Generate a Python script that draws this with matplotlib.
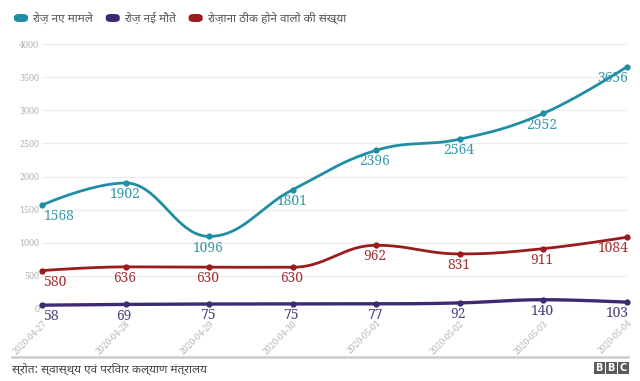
import numpy as np
import matplotlib
matplotlib.use('Agg')
import matplotlib.pyplot as plt
from matplotlib.patches import FancyBboxPatch, Rectangle

# Data (MoHFW daily figures)
DATES = ['2020-04-27', '2020-04-28', '2020-04-29', '2020-04-30',
         '2020-05-01', '2020-05-02', '2020-05-03', '2020-05-04']
NEW_CASES = [1568, 1902, 1096, 1801, 2396, 2564, 2952, 3656]
DEATHS = [58, 69, 75, 75, 77, 92, 140, 103]
RECOVERED = [580, 636, 630, 630, 962, 831, 911, 1084]
SERIES_NAMES = ['रोज़ नए मामले', 'रोज़ नई मौतें', 'रोज़ाना ठीक होने वालों की संख्या']
SOURCE = 'स्रोत: स्वास्थ्य एवं परिवार कल्याण मंत्रालय'

TEAL, PURPLE, RED = '#1f8ea5', '#3d2a72', '#9a1a1e'
HINDI = ['Noto Sans Devanagari', 'DejaVu Sans']
SERIF = ['Noto Serif', 'DejaVu Serif']


def spline(xs, ys, n=40):
    """Highcharts-style spline through the points (smoothing 1.5)."""
    xs, ys = np.asarray(xs, float), np.asarray(ys, float)
    m = len(xs)
    lc = [(x, y) for x, y in zip(xs, ys)]
    rc = [(x, y) for x, y in zip(xs, ys)]
    sm, den = 1.5, 2.5
    for i in range(1, m - 1):
        x, y = xs[i], ys[i]
        lx, ly = (sm * x + xs[i-1]) / den, (sm * y + ys[i-1]) / den
        rx, ry = (sm * x + xs[i+1]) / den, (sm * y + ys[i+1]) / den
        corr = (ry - ly) * (rx - x) / (rx - lx) + y - ry
        ly += corr
        ry += corr
        if ly > ys[i-1] and ly > y:
            ly = max(ys[i-1], y); ry = 2 * y - ly
        elif ly < ys[i-1] and ly < y:
            ly = min(ys[i-1], y); ry = 2 * y - ly
        if ry > ys[i+1] and ry > y:
            ry = max(ys[i+1], y); ly = 2 * y - ry
        elif ry < ys[i+1] and ry < y:
            ry = min(ys[i+1], y); ly = 2 * y - ry
        lc[i] = (lx, ly)
        rc[i] = (rx, ry)
    t = np.linspace(0, 1, n)[:, None]
    out = []
    for i in range(m - 1):
        p0 = np.array([xs[i], ys[i]]); p1 = np.array(rc[i])
        p2 = np.array(lc[i+1]); p3 = np.array([xs[i+1], ys[i+1]])
        seg = ((1-t)**3) * p0 + 3*((1-t)**2)*t*p1 + 3*(1-t)*t**2*p2 + t**3*p3
        out.append(seg if i == 0 else seg[1:])
    out = np.vstack(out)
    return out[:, 0], out[:, 1]


fig = plt.figure(figsize=(6.4, 3.81), dpi=100)
ax = fig.add_axes([42/640, 72/381, 585/640, 265/381])
x = np.arange(len(DATES))

for vals, col, lw in [(RECOVERED, RED, 2.0), (NEW_CASES, TEAL, 2.0), (DEATHS, PURPLE, 2.4)]:
    sx, sy = spline(x, vals)
    ax.plot(sx, sy, color=col, lw=lw, clip_on=False, zorder=3, solid_capstyle='round')
    ax.plot(x, vals, 'o', color=col, ms=3.5, clip_on=False, zorder=4)
    for xi, v in zip(x, vals):
        if xi == 0:
            ha, dx = 'left', 1
        elif xi == len(DATES) - 1:
            ha, dx = 'right', 1
        else:
            ha, dx = 'center', -1
        ax.annotate(f'{v}', (xi, v), xytext=(dx, -3), textcoords='offset points',
                    ha=ha, va='top', fontsize=10, color=col,
                    family=SERIF, alpha=0.9, zorder=5)

ax.set_xlim(0, len(DATES) - 1)
ax.set_ylim(0, 4000)
ax.set_yticks(np.arange(0, 4001, 500))
ax.yaxis.grid(True, color='#ececec', lw=0.8)
ax.set_axisbelow(True)
for s in ax.spines.values():
    s.set_visible(False)
ax.tick_params(axis='y', length=0, pad=2, labelsize=6.5, labelcolor='#b0b0b0')
for lab in ax.get_yticklabels():
    lab.set_family(SERIF)
ax.set_xticks(x)
ax.set_xticklabels(DATES, rotation=45, ha='right', va='top', rotation_mode='anchor',
                   fontsize=6.2, color='#b0b0b0', family=SERIF)
ax.tick_params(axis='x', length=0, pad=7)

# Legend
lx = 14
for name, col in zip(SERIES_NAMES, [TEAL, PURPLE, RED]):
    fig.patches.append(FancyBboxPatch((lx/640, 1 - 22/381), 14/640, 8/381,
                                      boxstyle='round,pad=0,rounding_size=0.008',
                                      transform=fig.transFigure, color=col, lw=0))
    t = fig.text((lx + 18)/640, 1 - 18/381, name, fontsize=8.5, color='#555555',
                 family=HINDI, va='center', ha='left')
    fig.canvas.draw()
    bb = t.get_window_extent()
    lx = bb.x1 + 13

# Footer
fig.add_artist(plt.Line2D([12/640, 628/640], [1 - 357/381] * 2, color='#cccccc', lw=1.8,
                          transform=fig.transFigure))
fig.text(12/640, 1 - 369/381, SOURCE, fontsize=8.5, color='#444444', family=HINDI,
         va='center', ha='left')
for k, ch in enumerate('BBC'):
    x0 = 594 + k * 12
    fig.patches.append(Rectangle((x0/640, 1 - 374/381), 10.5/640, 12/381,
                                 transform=fig.transFigure, color='#5a5a5a', lw=0))
    fig.text((x0 + 5.25)/640, 1 - 368/381, ch, fontsize=7, color='white',
             fontweight='bold', ha='center', va='center', family='DejaVu Sans')

fig.savefig('out.png', dpi=100)
